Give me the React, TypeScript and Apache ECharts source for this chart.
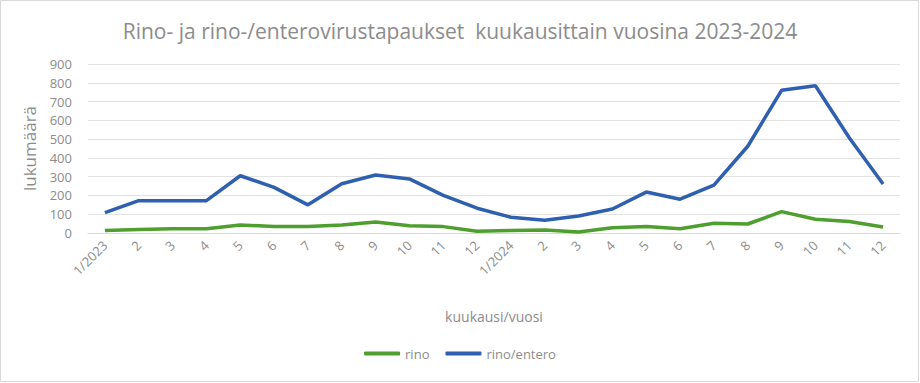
import React, { useEffect, useRef } from "react";
import * as echarts from "echarts";

const categories = [
  "1/2023", "2", "3", "4", "5", "6", "7", "8", "9", "10", "11", "12",
  "1/2024", "2", "3", "4", "5", "6", "7", "8", "9", "10", "11", "12",
];
const rino = [13, 18, 23, 23, 43, 34, 34, 43, 59, 39, 34, 9, 13, 16, 5, 28, 34, 23, 52, 48, 114, 73, 61, 32];
const rinoEntero = [109, 172, 172, 172, 305, 243, 150, 262, 309, 288, 200, 132, 84, 68, 91, 128, 218, 180, 255, 462, 760, 784, 507, 261];
const yTicks = [0, 900, 100];

const FONT = "'Open Sans', 'Noto Sans', sans-serif";

export default function App() {
  const ref = useRef<HTMLDivElement>(null);
  useEffect(() => {
    document.body.style.margin = "0";
    if (!ref.current) return;
    const chart = echarts.init(ref.current, null, { renderer: "svg" });
    chart.setOption({
      animation: false,
      backgroundColor: "#ffffff",
      title: {
        text: "Rino- ja rino-/enterovirustapaukset  kuukausittain vuosina 2023-2024",
        left: "center",
        top: 15,
        textStyle: { color: "#8c8c8c", fontSize: 21, fontWeight: "normal", fontFamily: FONT },
      },
      legend: {
        bottom: 18,
        left: "center",
        itemWidth: 36,
        itemHeight: 4,
        itemGap: 16,
        icon: "roundRect",
        textStyle: { color: "#8c8c8c", fontSize: 13, fontFamily: FONT },
        data: ["rino", "rino/entero"],
      },
      grid: { left: 88, right: 20, top: 64, bottom: 150 },
      xAxis: {
        type: "category",
        data: categories,
        boundaryGap: true,
        name: "kuukausi/vuosi",
        nameLocation: "middle",
        nameGap: 76,
        nameTextStyle: { color: "#8c8c8c", fontSize: 14, fontFamily: FONT },
        axisLine: { show: true, lineStyle: { color: "#d9d9d9" } },
        axisTick: { show: false },
        axisLabel: { rotate: 45, color: "#8c8c8c", fontSize: 13, fontFamily: FONT, margin: 10, interval: 0 },
      },
      yAxis: {
        type: "value",
        min: yTicks[0],
        max: yTicks[1],
        interval: yTicks[2],
        name: "lukumäärä",
        nameLocation: "middle",
        nameGap: 50,
        nameTextStyle: { color: "#8c8c8c", fontSize: 17, fontFamily: FONT },
        axisLine: { show: false },
        axisTick: { show: false },
        axisLabel: { color: "#8c8c8c", fontSize: 13, fontFamily: FONT, margin: 16 },
        splitLine: { lineStyle: { color: "#e3e3e3", width: 1 } },
      },
      series: [
        {
          name: "rino",
          type: "line",
          data: rino,
          symbol: "none",
          lineStyle: { color: "#4e9f2e", width: 3.5 },
          itemStyle: { color: "#4e9f2e" },
        },
        {
          name: "rino/entero",
          type: "line",
          data: rinoEntero,
          symbol: "none",
          lineStyle: { color: "#2f60b0", width: 3.5 },
          itemStyle: { color: "#2f60b0" },
        },
      ],
      graphic: [
        {
          type: "rect",
          shape: { x: 0.5, y: 0.5, width: 918, height: 381 },
          style: { fill: "none", stroke: "#d9d9d9", lineWidth: 1 },
          silent: true,
        },
      ],
    });
    return () => chart.dispose();
  }, []);
  return <div ref={ref} style={{ width: 920, height: 383 }} />;
}
